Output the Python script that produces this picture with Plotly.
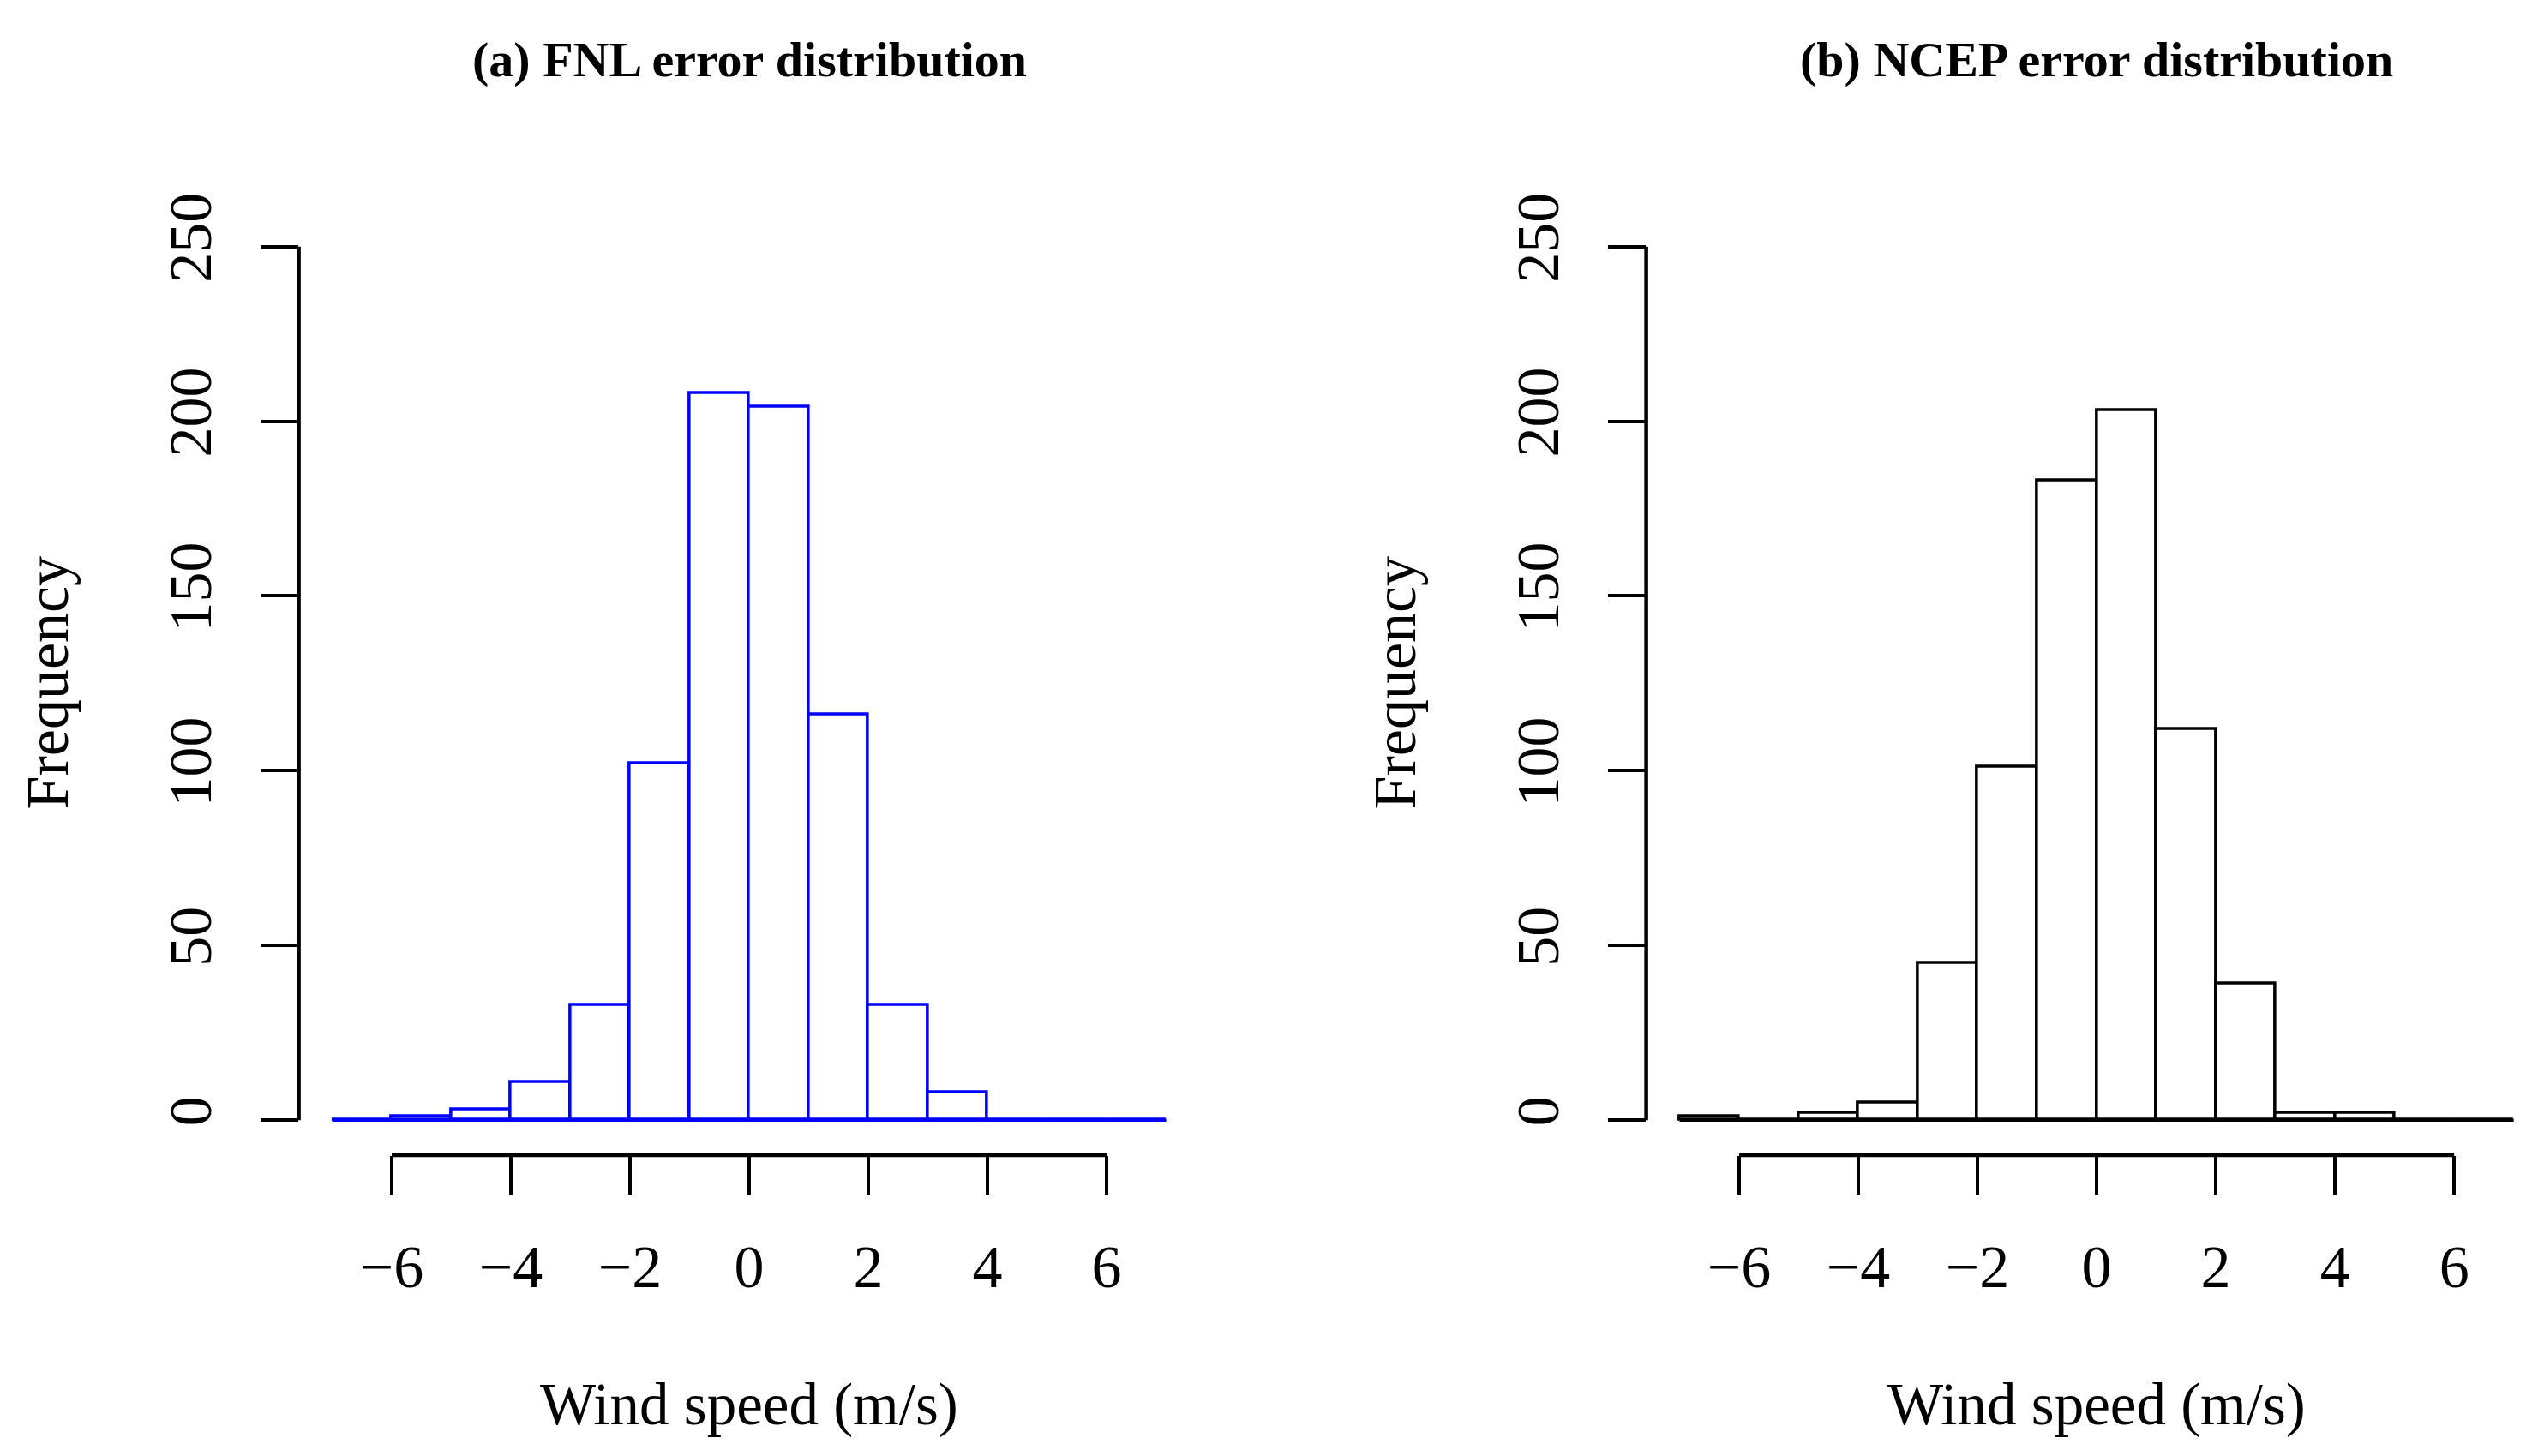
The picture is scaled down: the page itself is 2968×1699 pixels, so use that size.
import plotly.graph_objects as go

# ---- data ----
bin_edges = [-7, -6, -5, -4, -3, -2, -1, 0, 1, 2, 3, 4, 5, 6, 7]
fnl_counts = [0, 1, 3, 11, 33, 102, 208, 204, 116, 33, 8, 0, 0, 0]
ncep_counts = [1, 0, 2, 5, 45, 101, 183, 203, 112, 39, 2, 2, 0, 0]
x_ticks = [-6, -4, -2, 0, 2, 4, 6]
x_tick_text = ["\u22126", "\u22124", "\u22122", "0", "2", "4", "6"]
y_ticks = [0, 50, 100, 150, 200, 250]
titles = ["(a) FNL error distribution", "(b) NCEP error distribution"]
x_title = "Wind speed (m/s)"
y_title = "Frequency"
colors = ["#0000FF", "#000000"]

W, H = 2968, 1699
FONT = "Liberation Serif, Times New Roman, serif"

centers = [(a + b) / 2 for a, b in zip(bin_edges[:-1], bin_edges[1:])]
widths = [b - a for a, b in zip(bin_edges[:-1], bin_edges[1:])]

fig = go.Figure()

panels = [("x", "y", fnl_counts, colors[0]), ("x2", "y2", ncep_counts, colors[1])]
for (xa, ya, counts, col) in panels:
    fig.add_trace(go.Bar(
        x=centers, y=counts, width=widths, xaxis=xa, yaxis=ya,
        marker=dict(color="white", line=dict(color=col, width=3.5)),
        showlegend=False, hoverinfo="x+y"))
    # baseline of the histogram (zero-height bins are drawn as lines in R)
    fig.add_trace(go.Scatter(
        x=[bin_edges[0], bin_edges[-1]], y=[0, 0], xaxis=xa, yaxis=ya,
        mode="lines", line=dict(color=col, width=3.5),
        showlegend=False, hoverinfo="skip"))

pad_x = 0.04 * (bin_edges[-1] - bin_edges[0])
pad_y = 0.04 * (y_ticks[-1] - y_ticks[0])
xr = [bin_edges[0] - pad_x, bin_edges[-1] + pad_x]
yr = [y_ticks[0] - pad_y, y_ticks[-1] + pad_y]

ydom = [1 - 1335.3 / H, 1 - 219.7 / H]
xdom_a = [340.6 / W, 1391.5 / W]
xdom_b = [1912.6 / W, 2963.6 / W]

axis_font = dict(family=FONT, size=70, color="black")
common_x = dict(range=xr, tickmode="array", tickvals=x_ticks, ticktext=x_tick_text,
                ticks="outside", ticklen=45, tickwidth=3.5, tickcolor="black",
                showgrid=False, zeroline=False, showline=False,
                tickfont=axis_font, ticklabelstandoff=24, fixedrange=True)
common_y = dict(range=yr, tickmode="array", tickvals=y_ticks,
                ticks="outside", ticklen=44, tickwidth=3.5, tickcolor="black",
                showgrid=False, zeroline=False, showline=False, tickangle=-90,
                tickfont=axis_font, ticklabelstandoff=30, fixedrange=True)

fig.update_layout(
    width=W, height=H,
    margin=dict(l=0, r=0, t=0, b=0),
    paper_bgcolor="white", plot_bgcolor="white",
    font=dict(family=FONT, color="black"),
    xaxis=dict(domain=xdom_a, anchor="y", **common_x),
    yaxis=dict(domain=ydom, anchor="x", **common_y),
    xaxis2=dict(domain=xdom_b, anchor="y2", **common_x),
    yaxis2=dict(domain=ydom, anchor="x2", **common_y),
    bargap=0,
)

shapes = []
annotations = []
for i, (xa, ya) in enumerate([("x", "y"), ("x2", "y2")]):
    # x axis line: spans first to last tick at bottom of plot region
    shapes.append(dict(type="line", xref=xa, yref=ya + " domain",
                       x0=x_ticks[0], x1=x_ticks[-1], y0=0, y1=0,
                       line=dict(color="black", width=4.5)))
    # y axis line: spans first to last tick at left of plot region
    shapes.append(dict(type="line", xref=xa + " domain", yref=ya,
                       x0=0, x1=0, y0=y_ticks[0], y1=y_ticks[-1],
                       line=dict(color="black", width=4.5)))
    annotations.append(dict(text="<b>" + titles[i] + "</b>", xref=xa, yref="paper",
                            x=0, y=1 - 40 / H, showarrow=False,
                            font=dict(family=FONT, size=58, color="black"),
                            xanchor="center", yanchor="middle"))
    annotations.append(dict(text=x_title, xref=xa, yref="paper",
                            x=0, y=1 - 1630 / H, showarrow=False,
                            font=dict(family=FONT, size=69, color="black"),
                            xanchor="center", yanchor="middle"))
    fx = [47 / W, 1619 / W][i]
    annotations.append(dict(text=y_title, xref="paper", yref=ya,
                            x=fx, y=(y_ticks[0] + y_ticks[-1]) / 2, showarrow=False,
                            textangle=-90,
                            font=dict(family=FONT, size=70, color="black"),
                            xanchor="center", yanchor="middle"))

fig.update_layout(shapes=shapes, annotations=annotations)

fig.write_html("out.html")
